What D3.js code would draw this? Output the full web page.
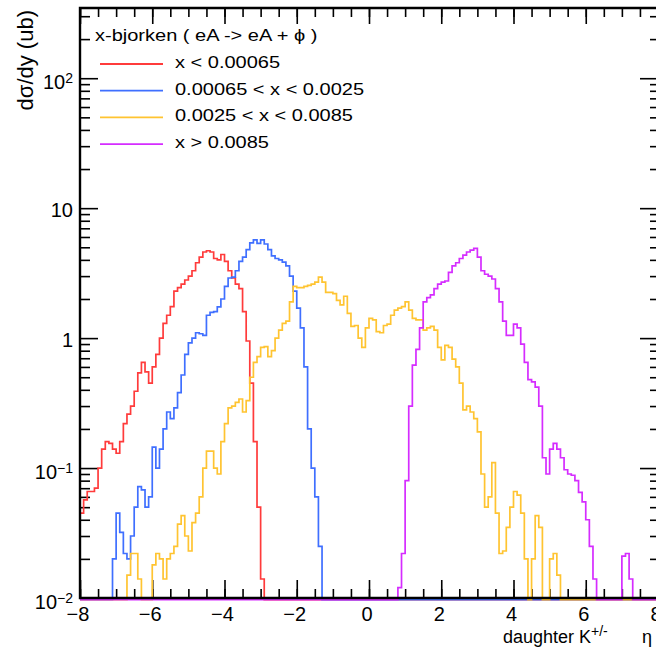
<!DOCTYPE html>
<html>
<head>
<meta charset="utf-8">
<script src="https://cdn.jsdelivr.net/npm/d3@7"></script>
<style>
  body { margin: 0; background: #fff; }
  svg { display: block; }
  text { font-family: "Liberation Sans", Arial, Helvetica, sans-serif; fill: #000; }
</style>
</head>
<body>
<script>
// histogram contents, 0.1 wide bins, each series starts at its own eta
var binWidth = 0.1

var redStart = -8.0
var redValues = [0.045, 0.057, 0.066, 0.066, 0.07, 0.10, 0.14, 0.16, 0.155, 0.14,
  0.13, 0.16, 0.22, 0.26, 0.30, 0.39, 0.54, 0.65, 0.55, 0.45,
  0.60, 0.75, 1.0, 1.3, 1.5, 1.75, 2.3, 2.45, 2.6, 2.8,
  3.0, 3.3, 3.8, 4.2, 4.6, 4.7, 4.6, 4.1, 4.0, 4.4,
  3.9, 3.3, 2.9, 2.6, 2.4, 1.6, 0.95, 0.45, 0.16, 0.05, 0.014]

var blueStart = -7.1
var blueValues = [0.02, 0.045, 0.032, 0.022, 0.02, 0.03, 0.05, 0.072, 0.068, 0.05,
  0.06, 0.145, 0.10, 0.14, 0.2, 0.27, 0.24, 0.29, 0.38, 0.52,
  0.75, 0.92, 1.0, 1.1, 1.08, 1.05, 1.5, 1.58, 1.6, 1.74,
  2.0, 2.5, 2.9, 2.95, 3.3, 3.9, 4.2, 4.8, 5.4, 5.7,
  5.35, 5.7, 5.3, 4.8, 4.3, 4.1, 4.0, 3.85, 3.6, 3.0,
  2.3, 1.7, 1.2, 0.6, 0.2, 0.1, 0.06, 0.025]

var yellowStart = -6.7
var yellowValues = [0.015, 0.022, 0.022, 0.014, 0, 0, 0, 0.018, 0.022, 0.02,
  0.014, 0.02, 0.022, 0.025, 0.037, 0.043, 0.03, 0.023, 0.038, 0.045,
  0.06, 0.10, 0.135, 0.135, 0.1, 0.09, 0.16, 0.22, 0.29, 0.3,
  0.32, 0.34, 0.27, 0.33, 0.5, 0.65, 0.72, 0.85, 0.86, 0.72,
  0.8, 1.0, 1.15, 1.3, 1.35, 1.9, 2.5, 2.45, 2.45, 2.5,
  2.55, 2.6, 2.7, 2.95, 2.7, 2.25, 2.25, 2.2, 1.95, 1.8,
  2.1, 1.55, 1.23, 1.25, 1.0, 0.85, 1.2, 1.42, 1.38, 1.12,
  1.1, 1.25, 1.28, 1.5, 1.64, 1.7, 1.75, 1.9, 1.64, 1.42,
  1.38, 1.38, 1.15, 1.2, 1.23, 1.15, 0.85, 0.68, 0.88, 0.85,
  0.69, 0.6, 0.45, 0.28, 0.3, 0.27, 0.24, 0.19, 0.09, 0.05,
  0.06, 0.11, 0.045, 0.022, 0.023, 0.035, 0.05, 0.066, 0.062, 0.045,
  0.02, 0, 0.02, 0.043, 0.035, 0, 0, 0.02, 0.022, 0.015]

var magentaStart = 0.8
var magentaValues = [0.012, 0.022, 0.08, 0.3, 0.62, 0.82, 1.2, 1.9, 2.05, 2.15,
  2.4, 2.6, 2.7, 2.75, 3.2, 3.6, 3.8, 4.1, 4.35, 4.6,
  4.75, 4.9, 4.2, 3.3, 3.1, 3.0, 2.85, 2.4, 1.9, 1.35,
  1.05, 1.05, 1.28, 1.2, 0.9, 0.65, 0.48, 0.46, 0.42, 0.3,
  0.12, 0.09, 0.14, 0.155, 0.14, 0.12, 0.097, 0.09, 0.088, 0.08,
  0.065, 0.055, 0.04, 0.025, 0.014, 0, 0, 0, 0, 0,
  0, 0, 0.021, 0.022, 0.014]

var seriesNames = ['x < 0.00065', '0.00065 < x < 0.0025', '0.0025 < x < 0.0085', 'x > 0.0085']
var seriesColors = ['#ff3b3b', '#3f6fff', '#ffc431', '#d52cff']
var legendTitle = 'x-bjorken ( eA -> eA + \u03d5 )'

var xMajor = [-8, -6, -4, -2, 0, 2, 4, 6, 8]
var yMajor = [0.01, 0.1, 1, 10, 100]
var yTickBase = ['10', '10', '1', '10', '10']
var yTickExp = ['\u22122', '\u22121', '', '', '2']

var w = 656
var h = 651
// frame edges (the right one falls just past the window)
var frameL = 80, frameR = 658, frameT = 8, frameB = 598

var svg = d3.select('body').append('svg')
  .attr('width', w)
  .attr('height', h)

var x = d3.scaleLinear().domain([-8, 8]).range([frameL, frameR])
var y = d3.scaleLog().domain([0.01, 347]).range([frameB, frameT])

// minor ticks
var xMinor = d3.range(-8, 8.001, 0.5)
var yMinor = []
yMajor.forEach(function(d) {
  for (var k = 2; k <= 9; k++) if (d * k < y.domain()[1]) yMinor.push(d * k)
})

function tickAxis(axis, tr) {
  var g = svg.append('g').attr('transform', tr).call(axis)
  g.select('.domain').remove()
  g.selectAll('line').attr('stroke', '#000').attr('stroke-width', 1.6)
  g.selectAll('text').remove()
}

tickAxis(d3.axisBottom(x).tickValues(xMajor).tickSize(-18), 'translate(0,' + frameB + ')')
tickAxis(d3.axisBottom(x).tickValues(xMinor).tickSize(-9), 'translate(0,' + frameB + ')')
tickAxis(d3.axisTop(x).tickValues(xMajor).tickSize(-16), 'translate(0,' + frameT + ')')
tickAxis(d3.axisTop(x).tickValues(xMinor).tickSize(-9), 'translate(0,' + frameT + ')')
tickAxis(d3.axisLeft(y).tickValues(yMajor).tickSize(-18), 'translate(' + frameL + ',0)')
tickAxis(d3.axisLeft(y).tickValues(yMinor).tickSize(-10), 'translate(' + frameL + ',0)')
tickAxis(d3.axisRight(y).tickValues(yMajor).tickSize(-18), 'translate(' + frameR + ',0)')
tickAxis(d3.axisRight(y).tickValues(yMinor).tickSize(-8), 'translate(' + frameR + ',0)')

// histograms
function makeBins(start, vals) {
  var n = Math.round(16 / binWidth)
  var s = Math.round((start + 8) / binWidth)
  var out = []
  for (var i = 0; i < n; i++) {
    var v = (i >= s && i < s + vals.length) ? vals[i - s] : 0
    out.push({ x0: -8 + i * binWidth, v: v })
  }
  out.push({ x0: 8, v: out[n - 1].v })
  return out
}

var series = [
  makeBins(redStart, redValues),
  makeBins(blueStart, blueValues),
  makeBins(yellowStart, yellowValues),
  makeBins(magentaStart, magentaValues)
]

svg.append('clipPath').attr('id', 'plot')
  .append('rect')
  .attr('x', frameL).attr('y', frameT)
  .attr('width', frameR - frameL).attr('height', frameB - frameT + 5)

var line = d3.line()
  .x(function(d) { return x(d.x0) })
  .y(function(d) { return d.v > 0 ? y(d.v) : frameB + 1.6 }) // empty bins sit on the floor
  .curve(d3.curveStepAfter)

svg.append('g').attr('clip-path', 'url(#plot)')
  .selectAll('path')
  .data(series)
  .enter()
  .append('path')
  .attr('d', line)
  .attr('fill', 'none')
  .attr('stroke', function(d, i) { return seriesColors[i] })
  .attr('stroke-width', 1.7)

// frame
svg.append('path')
  .attr('d', 'M' + frameR + ',' + frameT + 'H' + frameL + 'V' + frameB + 'H' + frameR)
  .attr('fill', 'none')
  .attr('stroke', '#000')
  .attr('stroke-width', 2.4)

// x tick labels
svg.selectAll('.xlab')
  .data(xMajor)
  .enter()
  .append('text')
  .attr('x', function(d) { return x(d) - 2 })
  .attr('y', frameB + 23)
  .attr('text-anchor', 'middle')
  .attr('font-size', '20px')
  .text(function(d) { return d3.format('d')(d) })

// y tick labels
var ylab = svg.selectAll('.ylab')
  .data(yMajor)
  .enter()
  .append('text')
  .attr('x', 73)
  .attr('y', function(d, i) { return y(d) + (yTickExp[i] ? 10.5 : 8.5) })
  .attr('text-anchor', 'end')
  .attr('font-size', '20px')
ylab.append('tspan').text(function(d, i) { return yTickBase[i] })
ylab.append('tspan')
  .attr('dy', -6)
  .attr('font-size', '14px')
  .text(function(d, i) { return yTickExp[i] })

// axis titles (ROOT latex spaces the pieces out, so place them one by one)
var xt = svg.append('text')
  .attr('y', 643)
  .attr('font-size', '18px')
xt.append('tspan').attr('x', 503).text('daughter K')
xt.append('tspan').attr('x', 591).attr('dy', -7).attr('font-size', '14px').text('+/-')
xt.append('tspan').attr('x', 642).attr('dy', 7).text('\u03b7')

svg.append('text')
  .attr('transform', 'translate(33,10) rotate(-90)')
  .attr('text-anchor', 'end')
  .attr('font-size', '22px')
  .text('d\u03c3/dy (ub)')

// legend
svg.append('text')
  .attr('transform', 'translate(95,41) scale(1.25,1)')
  .attr('font-size', '16px')
  .text(legendTitle)

var leg = svg.selectAll('.leg')
  .data(seriesNames)
  .enter()
  .append('g')
  .attr('transform', function(d, i) { return 'translate(0,' + (64 + i * 26.7) + ')' })

leg.append('line')
  .attr('x1', 100).attr('x2', 163)
  .attr('stroke', function(d, i) { return seriesColors[i] })
  .attr('stroke-width', 1.8)

leg.append('text')
  .attr('transform', 'translate(175,4) scale(1.25,1)')
  .attr('font-size', '16px')
  .text(function(d) { return d })
</script>
</body>
</html>
